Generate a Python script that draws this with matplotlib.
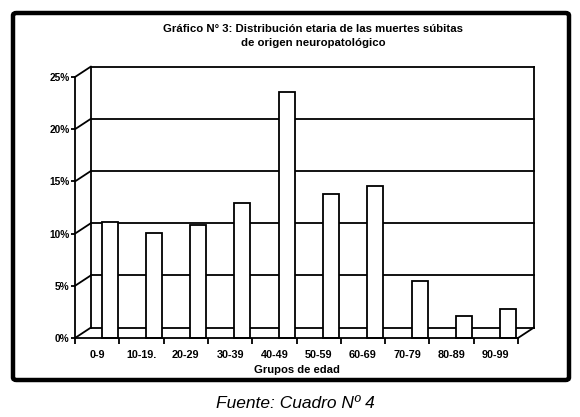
import numpy as np
import matplotlib as mpl
mpl.use("Agg")
import matplotlib.pyplot as plt
import matplotlib.transforms as mtransforms
from matplotlib.patches import ConnectionPatch, FancyBboxPatch

# Data (% of deaths per age group)
grupos = ['0-9', '10-19.', '20-29', '30-39', '40-49', '50-59', '60-69', '70-79', '80-89', '90-99']
porcentaje = [11.1, 10.1, 10.8, 12.9, 23.6, 13.8, 14.6, 5.5, 2.1, 2.8]
yticks = [0, 5, 10, 15, 20, 25]
ytick_labels = ['0%', '5%', '10%', '15%', '20%', '25%']

titulo = "Gráfico N° 3: Distribución etaria de las muertes súbitas\nde origen neuropatológico"
xlabel = "Grupos de edad"
fuente = "Fuente: Cuadro Nº 4"

plt.rcParams['font.family'] = ['Liberation Sans', 'DejaVu Sans']

W, H = 580, 417
fig = plt.figure(figsize=(W / 100, H / 100), dpi=100)

# front plane of the pseudo-3D plot (pixel positions of the reference)
x0, x1 = 75, 518
y0, y1 = 338, 77
ax = fig.add_axes([x0 / W, (H - y0) / H, (x1 - x0) / W, (y0 - y1) / H])
ax.set_xlim(-0.5, len(grupos) - 0.5)
ax.set_ylim(0, 25)
ax.patch.set_visible(False)

lw = 1.3
# back wall is the front plane shifted up/right
back = mtransforms.offset_copy(ax.transData, fig=fig, x=16, y=10.5, units='dots')
xl, xr = -0.5, len(grupos) - 0.5
for v in yticks:
    ax.plot([xl, xr], [v, v], color='black', lw=lw, transform=back, clip_on=False, zorder=1)
    # side wall diagonal
    ax.add_artist(ConnectionPatch(xyA=(xl, v), coordsA=ax.transData,
                                  xyB=(xl, v), coordsB=back, color='black', lw=lw, zorder=1))
ax.plot([xl, xl], [0, 25], color='black', lw=lw, transform=back, clip_on=False, zorder=1)
ax.plot([xr, xr], [0, 25], color='black', lw=lw, transform=back, clip_on=False, zorder=1)
ax.add_artist(ConnectionPatch(xyA=(xr, 0), coordsA=ax.transData,
                              xyB=(xr, 0), coordsB=back, color='black', lw=lw, zorder=1))

# bars sit slightly to the right of the category centre
x = np.arange(len(grupos))
ax.bar(x + 0.28, porcentaje, width=0.36, color='white', edgecolor='black',
       linewidth=lw, zorder=3, clip_on=False)

for side in ['top', 'right']:
    ax.spines[side].set_visible(False)
for side in ['left', 'bottom']:
    ax.spines[side].set_linewidth(lw)
    ax.spines[side].set_zorder(4)

ax.set_yticks(yticks)
ax.set_yticklabels(ytick_labels, fontsize=7.3, fontweight='bold')
ax.tick_params(axis='y', direction='out', length=3, width=lw, pad=1)

ax.set_xticks(x)
ax.set_xticklabels(grupos, fontsize=7.8, fontweight='bold')
ax.set_xticks(np.arange(len(grupos) + 1) - 0.5, minor=True)
ax.tick_params(axis='x', which='major', length=0, pad=9)
ax.tick_params(axis='x', which='minor', direction='out', length=4, width=lw)
ax.set_xlabel(xlabel, fontsize=8.1, fontweight='bold', labelpad=3)

fig.text(313 / W, 1 - 36 / H, titulo, ha='center', va='center', fontsize=8.2,
         fontweight='bold', linespacing=1.4)

# outer frame
frame = FancyBboxPatch((13 / W, 1 - 380 / H), (569 - 13) / W, (380 - 13) / H,
                       boxstyle='round,pad=0,rounding_size=0.006', transform=fig.transFigure,
                       facecolor='none', edgecolor='black', linewidth=3.2)
fig.patches.append(frame)

fig.text(295 / W, 1 - 404 / H, fuente, ha='center', va='center', fontsize=12.5,
         style='italic')

plt.savefig('out.png', dpi=100)
